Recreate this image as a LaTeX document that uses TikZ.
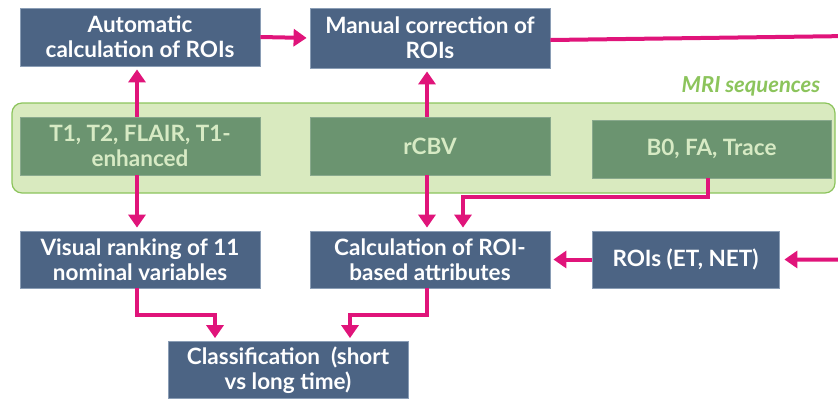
\documentclass[tikz,border=0pt]{standalone}
\usepackage{fontspec}
\setmainfont{Lato}
\usepackage{tikz}
\usetikzlibrary{arrows.meta}

\definecolor{boxblue}{HTML}{4C6484}
\definecolor{boxline}{HTML}{8A9DB5}
\definecolor{seqgreen}{HTML}{6B9470}
\definecolor{seqtext}{HTML}{D7EAC4}
\definecolor{bandfill}{HTML}{D9EABF}
\definecolor{bandline}{HTML}{8CC45C}
\definecolor{linkpink}{HTML}{E0147A}

\tikzset{
	stepbox/.style={draw=boxline, line width=0.8pt, fill=boxblue, text=white,
		font=\bfseries\fontsize{22.5}{25}\selectfont, align=center,
		minimum width=240pt, minimum height=58pt, inner sep=1pt},
	seqbox/.style={stepbox, draw=seqgreen!80!white, fill=seqgreen, text=seqtext},
	link/.style={draw=linkpink, line width=4pt,
		-{Triangle[width=17pt,length=13pt]}, shorten >=3pt},
}

\begin{document}
\begin{tikzpicture}[x=1pt, y=-1pt]
		\useasboundingbox (0,0) rectangle (838,400);
		\clip (0,0) rectangle (838,400);
		%----------------------------------------------------
		% MRI sequences band
		%----------------------------------------------------
		\draw [bandline, fill=bandfill, line width=1.2pt, rounded corners=10pt]
			(12,103) rectangle (835,193);
		\node (mri) [bandline, font=\bfseries\itshape\fontsize{22}{24}\selectfont]
			at (751,86) {MRI sequences};

		\node (t1)   [seqbox] at (140,146) {T1, T2, FLAIR, T1-\\enhanced};
		\node (rcbv) [seqbox] at (430,146) {rCBV};
		\node (b0)   [seqbox, minimum width=239pt] at (711.5,149) {B0, FA, Trace};

		%----------------------------------------------------
		% Processing steps
		%----------------------------------------------------
		\node (auto)   [stepbox] at (140,37) {Automatic\\calculation of ROIs};
		\node (manual) [stepbox, minimum height=60pt] at (430,38) {Manual correction of\\ROIs};
		\node (visual) [stepbox, minimum height=57pt] at (140,259.5) {Visual ranking of 11\\nominal variables};
		\node (calc)   [stepbox, minimum height=57pt] at (430,259.5) {Calculation of ROI-\\based attributes};
		\node (rois)   [stepbox, minimum width=187pt, minimum height=57pt] at (685.5,259.5) {ROIs (ET, NET)};
		\node (class)  [stepbox, minimum height=57pt] at (288,370) {Classification~ (short\\vs long time)};

		% loop leaves the picture on the right
		\coordinate (outA) at (850,36);

		%----------------------------------------------------
		% Connectors
		%----------------------------------------------------
		\draw [link] (auto.east) -- (manual.west);
		\draw [link] ([xshift=-3pt]t1.north) -- ([xshift=-3pt]auto.south);
		\draw [link] ([xshift=-3pt]t1.south) -- ([xshift=-3pt]visual.north);
		\draw [link] ([xshift=-3pt]rcbv.north) -- ([xshift=-3pt]manual.south);
		\draw [link] ([xshift=-3pt]rcbv.south) -- ([xshift=-3pt]calc.north);
		\draw [link] ([xshift=-4pt]b0.south) -- ++(0,19) -| ([xshift=33pt]calc.north);
		\draw [link, shorten >=5pt] ([yshift=-2pt]manual.east) -- (outA) |- (rois.east);
		\draw [link] (rois.west) -- (calc.east);
		\draw [link] ([xshift=-3pt]visual.south) -- ++(0,27) -| ([xshift=-73pt]class.north);
		\draw [link] ([xshift=-3pt]calc.south) -- ++(0,27) -| ([xshift=62pt]class.north);

	\end{tikzpicture}
\end{document}
